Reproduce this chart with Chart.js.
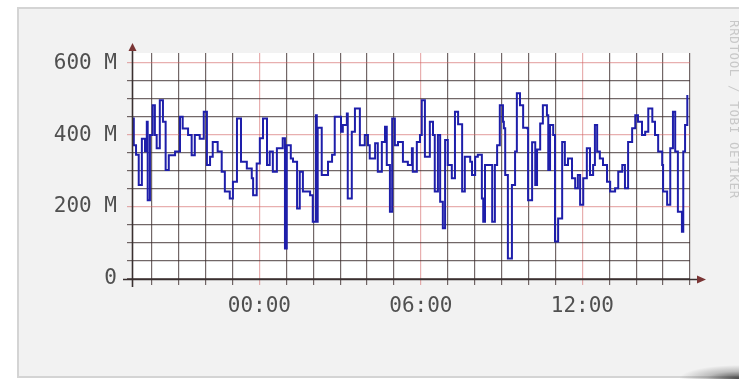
<!DOCTYPE html>
<html>
<head>
<meta charset="utf-8">
<script src="https://cdn.jsdelivr.net/npm/chart.js@4/dist/chart.umd.min.js"></script>
<style>
html,body{margin:0;padding:0;background:#ffffff;width:739px;height:379px;overflow:hidden;}
#frame{position:absolute;left:17px;top:7px;width:760px;height:371px;box-sizing:border-box;background:#f2f2f2;border:2px solid #d4d4d4;border-right:none;}
#shadow{position:absolute;left:680px;top:360px;width:59px;height:19px;background:radial-gradient(ellipse 60px 14px at 100% 100%, rgba(40,40,40,0.85), rgba(90,90,90,0.35) 55%, rgba(140,140,140,0) 100%);}
#wrap{position:absolute;left:0;top:0;width:739px;height:379px;}
#credit{position:absolute;left:727px;top:20px;writing-mode:vertical-rl;font-family:"DejaVu Sans Mono",monospace;font-size:12.5px;color:#c8c8c8;letter-spacing:0.6px;white-space:nowrap;}
</style>
</head>
<body>
<div id="frame"></div>
<div id="shadow"></div>
<div id="wrap"><canvas id="c" width="739" height="379"></canvas></div>
<div id="credit">RRDTOOL / TOBI OETIKER</div>
<script>
// time in minutes relative to 00:00 (negative = previous evening)
const times = [
-282,-280,-275,-269,-262,-255,-251,-249,-244,-238,-233,-229,-222,-215,-209,-202,-193,-188,-177,-171,
-159,-151,-144,-133,-124,-117,-110,-104,-93,-84,-77,-66,-59,-50,-41,-28,-17,-14,-6,1,
8,17,23,30,39,52,57,61,70,75,84,90,97,113,119,126,128,130,139,153,
162,168,180,182,186,195,197,206,213,220,224,235,242,246,258,264,273,280,284,291,
296,302,309,320,331,340,342,351,358,362,369,380,387,391,398,403,409,414,420,429,
436,443,452,458,470,474,481,487,496,499,503,510,519,525,530,536,543,545,548,554,
563,570,574,581,588,597,599,608,615,619,626,632,641,644,648,655,659,666,675,681,
688,697,704,710,715,722,730,737,744,748,753,759,766,775,782,793,800,809,815,822,
831,838,844,853,860,867,876,882,889,898,900,909,916,922,927,933,942,945,949,954
];
// traffic in M (millions)
const values = [
446,372,345,261,390,355,437,219,400,483,400,363,497,437,303,344,344,354,451,418,
400,344,400,390,465,317,340,381,354,298,243,224,270,446,326,307,280,233,321,391,
446,317,354,298,363,391,85,372,335,326,196,298,243,233,159,455,159,420,289,326,
345,451,451,409,428,460,224,409,474,474,372,400,372,335,377,298,381,423,317,187,
446,372,381,326,317,363,298,381,400,497,340,437,400,243,400,215,141,386,317,280,
465,430,243,340,326,289,340,345,224,159,317,317,159,317,372,483,437,419,289,57,
261,354,516,483,420,419,219,380,261,360,432,483,455,303,428,400,104,168,381,317,
335,280,252,289,206,280,363,289,317,428,354,335,317,270,243,252,298,317,252,381,
419,455,437,400,409,474,437,400,354,317,243,206,363,465,354,187,131,354,428,511
];
const yTickValues = [0, 200, 400, 600];        // labelled y ticks (M)
const xLabelMinutes = [0, 360, 720];            // labelled x ticks: 00:00, 06:00, 12:00
const xMin = -284, xMax = 960;                  // time range (minutes)
const yMin = 0, yMax = 628;                     // value range (M)

const minorCol = 'rgba(60,45,45,0.72)';
const majorCol = 'rgba(210,95,95,0.5)';

const axesPlugin = {
  id: 'rrdAxes',
  beforeDraw(chart) {
    const {ctx, chartArea: a} = chart;
    ctx.save();
    ctx.fillStyle = '#ffffff';
    ctx.fillRect(a.left, a.top, a.right - a.left, a.bottom - a.top);
    ctx.restore();
  },
  afterDraw(chart) {
    const {ctx, chartArea: a} = chart;
    ctx.save();
    ctx.strokeStyle = '#3a3030';
    ctx.lineWidth = 1.6;
    ctx.beginPath();
    ctx.moveTo(a.left - 9, a.bottom + 0.5);
    ctx.lineTo(a.right + 10, a.bottom + 0.5);
    ctx.moveTo(a.left + 0.5, a.bottom + 8);
    ctx.lineTo(a.left + 0.5, a.top - 6);
    ctx.stroke();
    ctx.fillStyle = '#7a3535';
    ctx.beginPath();
    ctx.moveTo(a.right + 16, a.bottom + 0.5);
    ctx.lineTo(a.right + 7, a.bottom - 3.5);
    ctx.lineTo(a.right + 7, a.bottom + 4.5);
    ctx.closePath();
    ctx.fill();
    ctx.beginPath();
    ctx.moveTo(a.left + 0.5, a.top - 10);
    ctx.lineTo(a.left - 3.5, a.top - 2);
    ctx.lineTo(a.left + 4.5, a.top - 2);
    ctx.closePath();
    ctx.fill();
    ctx.restore();
  }
};

function hhmm(m) {
  const h = ((Math.round(m / 60) % 24) + 24) % 24;
  return String(h).padStart(2, '0') + ':00';
}

new Chart(document.getElementById('c'), {
  type: 'line',
  data: {
    datasets: [{
      data: times.map((t, i) => ({x: t, y: values[i]})),
      borderColor: '#1e1eaa',
      borderWidth: 2,
      pointRadius: 0,
      stepped: 'before',
      fill: false
    }]
  },
  options: {
    responsive: false,
    animation: false,
    devicePixelRatio: 1,
    layout: {padding: {left: 0, right: 49, top: 53, bottom: 0}},
    plugins: {legend: {display: false}, tooltip: {enabled: false}},
    scales: {
      x: {
        type: 'linear',
        min: xMin, max: xMax,
        afterFit(s) { s.height = 100; },
        border: {display: false},
        grid: {
          color: c => (c.tick && xLabelMinutes.includes(c.tick.value)) ? majorCol : minorCol,
          lineWidth: 1.2,
          tickLength: 6,
          drawTicks: true
        },
        ticks: {
          stepSize: 60,
          includeBounds: false,
          autoSkip: false,
          maxRotation: 0,
          padding: 9,
          color: '#505050',
          font: {family: '"DejaVu Sans Mono", monospace', size: 21},
          callback: v => xLabelMinutes.includes(v) ? hhmm(v) : ''
        }
      },
      y: {
        min: yMin, max: yMax,
        afterFit(s) { s.width = 132; },
        border: {display: false},
        grid: {
          color: c => (c.tick && c.tick.value !== 0 && yTickValues.includes(c.tick.value)) ? majorCol : minorCol,
          lineWidth: 1.2,
          tickLength: 5,
          drawTicks: true
        },
        ticks: {
          stepSize: 50,
          includeBounds: false,
          autoSkip: false,
          padding: 10,
          color: '#505050',
          font: {family: '"DejaVu Sans Mono", monospace', size: 21},
          callback: v => yTickValues.includes(v) ? (v === 0 ? '0' : v + ' M') : ''
        }
      }
    }
  },
  plugins: [axesPlugin]
});
</script>
</body>
</html>
